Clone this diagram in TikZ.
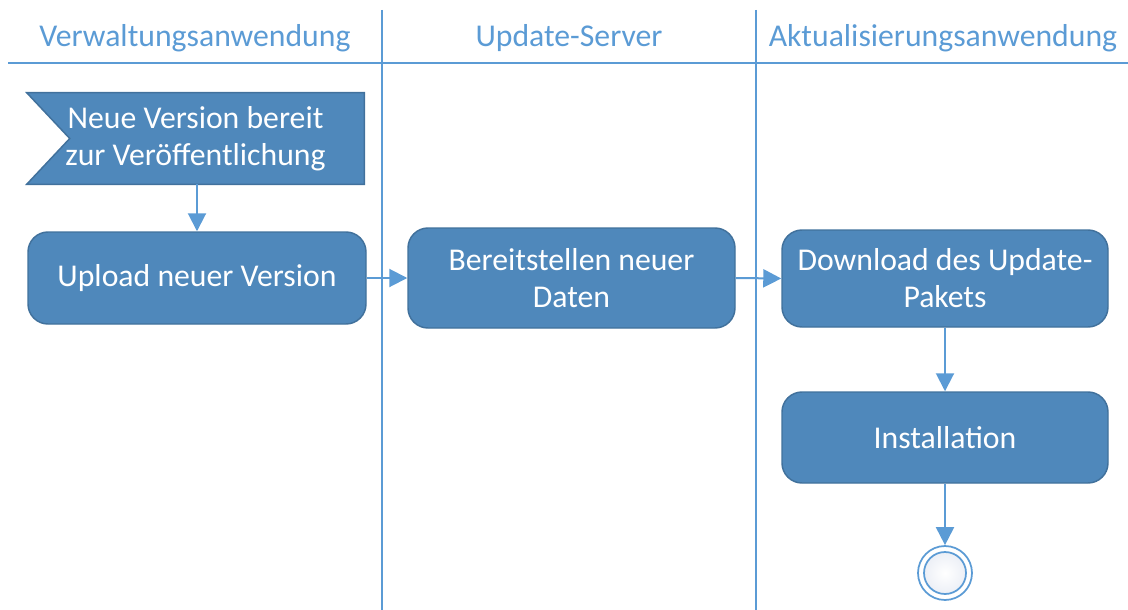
\documentclass[tikz,border=0pt]{standalone}
\usepackage{fontspec}
\setmainfont{Carlito}
\usetikzlibrary{arrows.meta,backgrounds,calc}
\definecolor{lane}{RGB}{91,155,213}
\definecolor{boxfill}{RGB}{79,136,187}
\definecolor{boxline}{RGB}{65,113,156}
\definecolor{endfill}{RGB}{236,239,246}

\begin{document}
\begin{tikzpicture}[x=0.75pt,y=-0.75pt,
  every node/.style={font=\fontsize{23.8}{27.75}\selectfont},
  lanetitle/.style={text=lane, anchor=base},
  action/.style={draw=boxline, line width=1.1pt, fill=boxfill, text=white,
    rounded corners=15pt, align=center, inner sep=0pt},
  flagbox/.style={draw=boxline, line width=1.1pt, fill=boxfill},
  flow/.style={draw=lane, line width=1.5pt,
    -{Triangle[length=13.5pt,width=13.5pt]}},
  lanesep/.style={draw=lane, line width=1.5pt}]
\useasboundingbox (0,0) rectangle (1128,610);

% swimlane separators
\draw[lanesep] (8,63) -- (1128,63);
\draw[lanesep] (382,10) -- (382,610);
\draw[lanesep] (756,10) -- (756,610);

% lane titles
\node[lanetitle] (t1) at (195,47) {Verwaltungsanwendung};
\node[lanetitle] (t2) at (569,47) {Update-Server};
\node[lanetitle] (t3) at (943,47) {Aktualisierungsanwendung};

% start signal (notched flag)
\node[text=white, align=center, inner sep=0pt,
  minimum width=252.75pt, minimum height=68.25pt] (start) at (195.5,138.5)
  {Neue Version bereit\\zur Veröffentlichung};
\begin{scope}[on background layer]
  \path[flagbox] (start.north west) -- (start.north east) -- (start.south east)
    -- (start.south west) -- ($(start.west)+(43,0)$) -- cycle;
\end{scope}

% actions
\node[action, minimum width=253.5pt, minimum height=69pt] (upload) at (197,278)
  {Upload neuer Version};
\node[action, minimum width=245.25pt, minimum height=75pt] (provide) at (571.5,278)
  {Bereitstellen neuer\\Daten};
\node[action, minimum width=244.5pt, minimum height=72.75pt] (download) at (945,278.5)
  {Download des Update-\\Pakets};
\node[action, minimum width=244.5pt, minimum height=68.25pt] (install) at (945,437.5)
  {Installation};

% final state
\node[circle, draw=lane, line width=1.3pt, minimum size=40.5pt, inner sep=0pt,
  fill=white] (final) at (945,573) {};
\shade[inner color=white, outer color=endfill, draw=lane, line width=1.3pt]
  (final.center) circle[radius=15.75pt];

% control flow
\draw[flow] (upload.north |- start.south) -- (upload.north);
\draw[flow] (upload.east) -- (provide.west);
\draw[flow] (provide.east) -- (download.west);
\draw[flow] (download.south) -- (install.north);
\draw[flow] (install.south) -- (final.north);
\end{tikzpicture}
\end{document}
